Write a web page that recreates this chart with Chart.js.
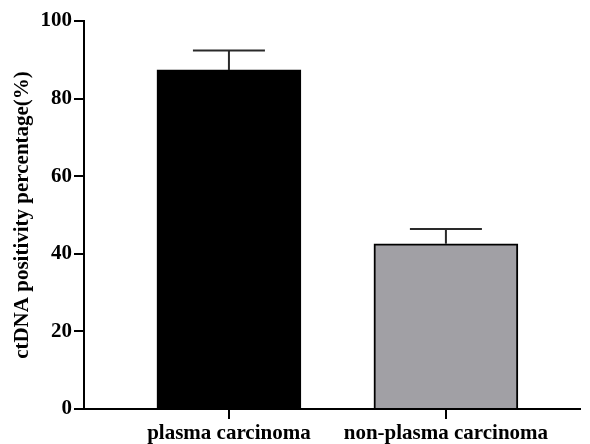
<!DOCTYPE html>
<html>
<head>
<meta charset="utf-8">
<script src="https://cdn.jsdelivr.net/npm/chart.js@4"></script>
<style>
html,body{margin:0;padding:0;background:#fff;}
#wrap{width:590px;height:444px;}
</style>
</head>
<body>
<div id="wrap"><canvas id="c" width="590" height="444"></canvas></div>
<script>
const categories = ["plasma carcinoma", "non-plasma carcinoma"];
const positions = [0, 1];
const values = [87.4, 42.6];
const errors = [5.0, 3.8];
const colors = ["#000000", "#a1a0a5"];
const yTicks = [0, 20, 40, 60, 80, 100];

const FONT = "'Liberation Serif', 'Times New Roman', serif";

const errorBars = {
  id: 'errorBars',
  afterDatasetsDraw(chart) {
    const ctx = chart.ctx;
    const y = chart.scales.y;
    const meta = chart.getDatasetMeta(0);
    ctx.save();
    ctx.strokeStyle = '#2a2a2a';
    ctx.lineWidth = 2;
    meta.data.forEach((el, i) => {
      const top = y.getPixelForValue(values[i] + errors[i]);
      ctx.beginPath();
      ctx.moveTo(el.x, el.y);
      ctx.lineTo(el.x, top);
      ctx.moveTo(el.x - 36, top);
      ctx.lineTo(el.x + 36, top);
      ctx.stroke();
    });
    ctx.restore();
  }
};

new Chart(document.getElementById('c'), {
  type: 'bar',
  data: {
    datasets: [{
      data: positions.map((p, i) => ({x: p, y: values[i]})),
      backgroundColor: colors,
      borderColor: '#000',
      borderWidth: 2,
      barThickness: 144
    }]
  },
  options: {
    responsive: false,
    animation: false,
    layout: {padding: {top: 21, right: 10, left: 0, bottom: 0}},
    plugins: {legend: {display: false}, tooltip: {enabled: false}},
    scales: {
      x: {
        type: 'linear',
        offset: false,
        bounds: 'data',
        min: -0.668,
        max: 1.618,
        afterDataLimits(s) { s.min = -0.668; s.max = 1.618; },
        afterBuildTicks(s) { s.ticks = positions.map(v => ({value: v})); },
        afterFit(s) { s.height = 35; },
        grid: {display: true, offset: false, drawOnChartArea: false, drawTicks: true, tickLength: 10, color: '#000', lineWidth: 2},
        border: {display: true, color: '#000', width: 2},
        ticks: {
          autoSkip: false, maxRotation: 0, padding: 2,
          color: '#000',
          font: {family: FONT, size: 21, weight: 'bold'},
          callback: (v) => categories[positions.indexOf(v)]
        }
      },
      y: {
        min: 0, max: 100,
        afterBuildTicks(s) { s.ticks = yTicks.map(v => ({value: v})); },
        afterFit(s) { s.width = 84; },
        grid: {display: true, drawOnChartArea: false, drawTicks: true, tickLength: 10, color: '#000', lineWidth: 2},
        border: {display: true, color: '#000', width: 2},
        ticks: {
          padding: 2, color: '#000',
          font: {family: FONT, size: 21, weight: 'bold'}
        },
        title: {
          display: true,
          text: 'ctDNA positivity percentage(%)',
          color: '#000',
          font: {family: FONT, size: 21, weight: 'bold'},
          padding: {top: 10, bottom: 0}
        }
      }
    }
  },
  plugins: [errorBars]
});
</script>
</body>
</html>
